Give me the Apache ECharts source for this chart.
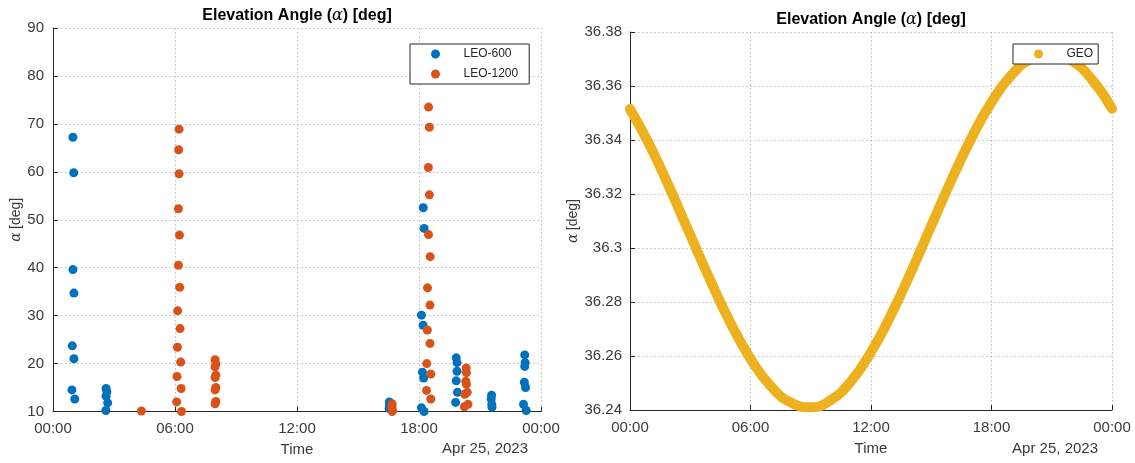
<!DOCTYPE html>
<html>
<head>
<meta charset="utf-8">
<script src="https://cdn.jsdelivr.net/npm/echarts@6/dist/echarts.min.js"></script>
<style>
  html, body { margin: 0; padding: 0; background: #fff; }
  #chart { width: 1135px; height: 463px; }
</style>
</head>
<body>
<div id="chart"></div>
<script>
// time of day in hours, elevation in deg
var leo600Hours = [0.98, 1.02, 0.98, 1.03, 0.95, 1.03, 0.93, 1.07,
  2.61, 2.65, 2.61, 2.69, 2.60,
  16.54, 16.55, 16.53,
  18.21, 18.25, 18.12, 18.20, 18.17, 18.23, 18.12, 18.25,
  19.83, 19.87, 19.87, 19.83, 19.89, 19.80,
  21.57, 21.55, 21.58, 21.59,
  23.20, 23.22, 23.20, 23.18, 23.24, 23.14, 23.27]
var leo600Vals = [67.2, 59.8, 39.6, 34.7, 23.7, 21.0, 14.5, 12.6,
  14.8, 14.1, 13.2, 11.8, 10.2,
  12.0, 11.3, 10.6,
  52.5, 48.2, 30.1, 28.0, 18.2, 17.0, 10.8, 10.0,
  21.2, 20.2, 18.4, 16.4, 14.0, 11.9,
  13.4, 12.6, 11.5, 10.9,
  21.8, 20.2, 19.4, 16.1, 15.0, 11.5, 10.2]

var leo1200Hours = [4.35,
  6.20, 6.18, 6.20, 6.17, 6.22, 6.17, 6.23, 6.13, 6.25, 6.12, 6.28, 6.10, 6.30, 6.08, 6.32,
  7.97, 8.01, 7.97, 8.01, 7.97, 8.01, 7.97, 8.01, 7.97,
  16.68, 16.67, 16.69, 16.68,
  18.47, 18.51, 18.46, 18.51, 18.47, 18.55, 18.42, 18.54, 18.41, 18.54, 18.38, 18.58, 18.37, 18.58,
  20.32, 20.33, 20.30, 20.33, 20.37, 20.25, 20.41, 20.23]
var leo1200Vals = [10.1,
  68.9, 64.6, 59.6, 52.3, 46.8, 40.5, 35.9, 31.0, 27.3, 23.4, 20.3, 17.3, 14.8, 12.0, 10.0,
  20.8, 19.9, 19.3, 17.6, 17.1, 15.0, 14.5, 12.1, 11.6,
  11.6, 11.0, 10.4, 10.0,
  73.5, 69.3, 60.9, 55.2, 46.9, 42.3, 35.8, 32.2, 27.0, 24.2, 20.0, 17.8, 14.4, 12.6,
  19.1, 18.1, 16.3, 15.7, 14.0, 13.6, 11.5, 11.0]

var geoHours = [0, 1, 2, 3, 4, 5, 6, 7, 8, 9, 10, 11, 12, 13, 14, 15, 16, 17, 18, 19, 20, 21, 22, 23, 24]
var geoVals = [36.3515, 36.3378, 36.3218, 36.3048, 36.2880, 36.2723, 36.2590, 36.2489, 36.2428, 36.2410,
  36.2437, 36.2506, 36.2614, 36.2753, 36.2912, 36.3082, 36.3251, 36.3407, 36.3540, 36.3641,
  36.3702, 36.3720, 36.3693, 36.3624, 36.3516]

function pairs(xs, ys) {
  return xs.map(function (x, i) { return [x, ys[i]] })
}

var axisColor = '#262626'
var labelColor = '#3a3a3a'
var font = 'Arial, "Liberation Sans", Helvetica, sans-serif'

function hourLabel(v) {
  var h = v % 24
  return (h < 10 ? '0' : '') + h + ':00'
}

function timeAxis(idx) {
  return {
    gridIndex: idx,
    type: 'value',
    min: 0,
    max: 24,
    interval: 6,
    name: 'Time',
    nameLocation: 'middle',
    nameGap: 31,
    nameTextStyle: { color: labelColor, fontSize: 15, fontFamily: font },
    axisLine: { lineStyle: { color: axisColor, width: 1 } },
    axisTick: { inside: true, length: 5, lineStyle: { color: axisColor } },
    axisLabel: { color: labelColor, fontSize: 15, fontFamily: font, margin: 10, formatter: hourLabel },
    splitLine: { show: true, lineStyle: { color: '#bdbdbd', width: 1, type: [1.5, 2.5] } }
  }
}

var alphaName = {
  text: '{a|α} {b|[deg]}',
  rich: {
    a: { fontFamily: '"DejaVu Serif", serif', fontStyle: 'italic', fontSize: 14, color: labelColor },
    b: { fontFamily: font, fontSize: 14, color: labelColor }
  }
}

var titleRich = {
  b: { fontFamily: font, fontSize: 16, fontWeight: 'bold', color: '#111' },
  a: { fontFamily: '"DejaVu Serif", serif', fontStyle: 'italic', fontSize: 16, color: '#111' }
}
var titleText = '{b|Elevation Angle (}{a|α}{b|) [deg]}'

var legendBase = {
  orient: 'vertical',
  top: 44,
  itemWidth: 46,
  itemHeight: 9,
  itemGap: 8,
  icon: 'circle',
  backgroundColor: '#fff',
  borderColor: axisColor,
  borderWidth: 1,
  borderRadius: 0,
  textStyle: { color: axisColor, fontSize: 12, fontFamily: font }
}

var echart = echarts.init(document.getElementById('chart'))
var option = {
  backgroundColor: '#fff',
  animation: false,
  grid: [
    { left: 53, top: 28, width: 488, height: 383.5 },
    { left: 630, top: 32, width: 482, height: 378 }
  ],
  legend: [
    Object.assign({}, legendBase, { data: ['LEO-600', 'LEO-1200'], left: 410, padding: [4, 11, 4, 21] }),
    Object.assign({}, legendBase, { data: ['GEO'], left: 1013, padding: [4, 5, 4, 21] })
  ],
  xAxis: [timeAxis(0), timeAxis(1)],
  yAxis: [{
    gridIndex: 0,
    type: 'value',
    min: 10,
    max: 90,
    interval: 10,
    name: alphaName.text,
    nameLocation: 'middle',
    nameGap: 29,
    nameTextStyle: { rich: alphaName.rich },
    axisLine: { show: true, lineStyle: { color: axisColor, width: 1 } },
    axisTick: { show: true, inside: true, length: 5, lineStyle: { color: axisColor } },
    axisLabel: { color: labelColor, fontSize: 15, fontFamily: font, margin: 9 },
    splitLine: { show: true, lineStyle: { color: '#bdbdbd', width: 1, type: [1.5, 2.5] } }
  }, {
    gridIndex: 1,
    type: 'value',
    min: 36.24,
    max: 36.38,
    interval: 0.02,
    name: alphaName.text,
    nameLocation: 'middle',
    nameGap: 47,
    nameTextStyle: { rich: alphaName.rich },
    axisLine: { show: true, lineStyle: { color: axisColor, width: 1 } },
    axisTick: { show: true, inside: true, length: 5, lineStyle: { color: axisColor } },
    axisLabel: { color: labelColor, fontSize: 15, fontFamily: font, margin: 8 },
    splitLine: { show: true, lineStyle: { color: '#bdbdbd', width: 1, type: [1.5, 2.5] } }
  }],
  graphic: [
    { type: 'text', x: 297, y: 16, style: { text: titleText, rich: titleRich, align: 'center', verticalAlign: 'middle' } },
    { type: 'text', x: 871, y: 20, style: { text: titleText, rich: titleRich, align: 'center', verticalAlign: 'middle' } },
    { type: 'text', x: 528, y: 449, style: { text: 'Apr 25, 2023', fill: labelColor, font: '15px ' + font, align: 'right', verticalAlign: 'middle' } },
    { type: 'text', x: 1098, y: 449, style: { text: 'Apr 25, 2023', fill: labelColor, font: '15px ' + font, align: 'right', verticalAlign: 'middle' } }
  ],
  series: [{
    name: 'LEO-600',
    type: 'scatter',
    xAxisIndex: 0,
    yAxisIndex: 0,
    symbolSize: 9,
    clip: false,
    itemStyle: { color: '#0072BD', opacity: 1 },
    data: pairs(leo600Hours, leo600Vals)
  }, {
    name: 'LEO-1200',
    type: 'scatter',
    xAxisIndex: 0,
    yAxisIndex: 0,
    symbolSize: 9,
    clip: false,
    itemStyle: { color: '#D95319', opacity: 1 },
    data: pairs(leo1200Hours, leo1200Vals)
  }, {
    name: 'GEO',
    type: 'line',
    xAxisIndex: 1,
    yAxisIndex: 1,
    smooth: true,
    showSymbol: false,
    clip: false,
    lineStyle: { color: '#EDB120', width: 10, cap: 'round', join: 'round' },
    itemStyle: { color: '#EDB120' },
    data: pairs(geoHours, geoVals)
  }]
}
echart.setOption(option)

window.onresize = function () {
  echart.resize()
}
</script>
</body>
</html>
